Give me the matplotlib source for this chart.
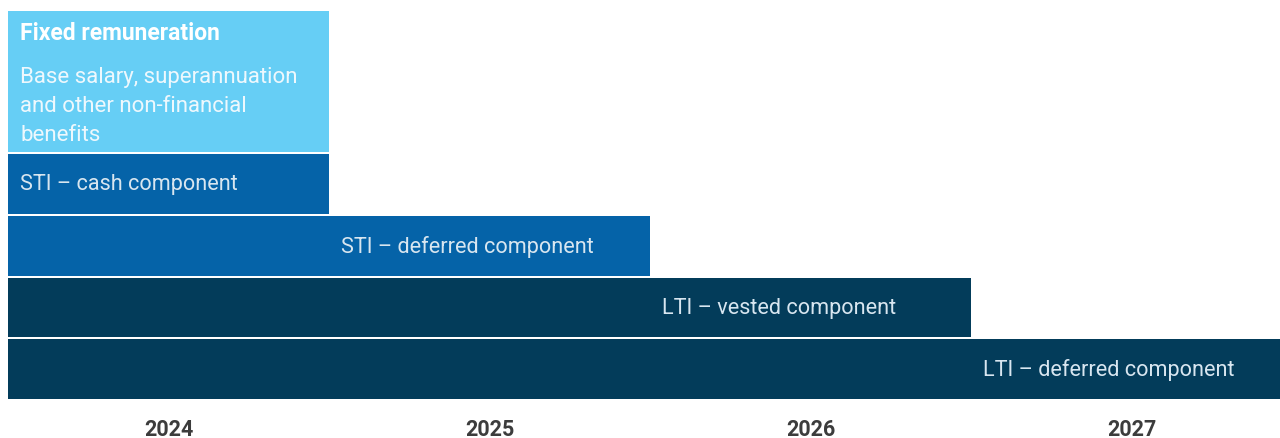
import matplotlib
matplotlib.use('Agg')
import matplotlib.pyplot as plt
from matplotlib.transforms import offset_copy

# Data: each component runs from the start of 2024 to the end of its last year
years = ['2024', '2025', '2026', '2027']
components = ['Fixed remuneration', 'STI – cash component', 'STI – deferred component',
              'LTI – vested component', 'LTI – deferred component']
end_year = [2024, 2024, 2025, 2026, 2027]
fixed_note = 'Base salary, superannuation\nand other non-financial\nbenefits'

colors = ['#66CEF5', '#0563A8', '#0563A8', '#033C5A', '#033C5A']
row_heights = [141, 59.75, 59.75, 59.75, 59.75]
gap = 2

plt.rcParams['font.family'] = ['Roboto', 'DejaVu Sans']

fig = plt.figure(figsize=(12.8, 4.39), dpi=100)
ax = fig.add_axes([8 / 1280, 39 / 439, 1 - 8 / 1280, 388 / 439])

first = int(years[0])
top = 0
for i, (name, end) in enumerate(zip(components, end_year)):
    h = row_heights[i]
    width = end - first + 1
    ax.barh(top + h / 2, width, height=h, left=0, color=colors[i], edgecolor='none')
    tr = offset_copy(ax.transData, fig=fig, x=12, y=0, units='dots')
    if i == 0:
        ax.text(0, top + 22, name, transform=tr, color='white', fontsize=16.5,
                fontweight='bold', va='center', ha='left')
        ax.text(0, top + 55, fixed_note, transform=tr, color='#EEF8FD', fontsize=16,
                va='top', ha='left', linespacing=1.5)
    else:
        ax.text(width - 1, top + h / 2, name, transform=tr, color='#D8E6F0',
                fontsize=15.6, va='center', ha='left')
    top += h + gap

ax.set_xlim(0, 1272 / 321)
ax.set_ylim(388, 0)
ax.set_xticks([k + 0.5 for k in range(len(years))])
ax.set_xticklabels(years, fontsize=15.5, fontweight='bold', color='#3C3C3C')
ax.tick_params(axis='x', length=0, pad=13.5)
ax.set_yticks([])
for s in ax.spines.values():
    s.set_visible(False)

fig.savefig('out.png', dpi=100)
